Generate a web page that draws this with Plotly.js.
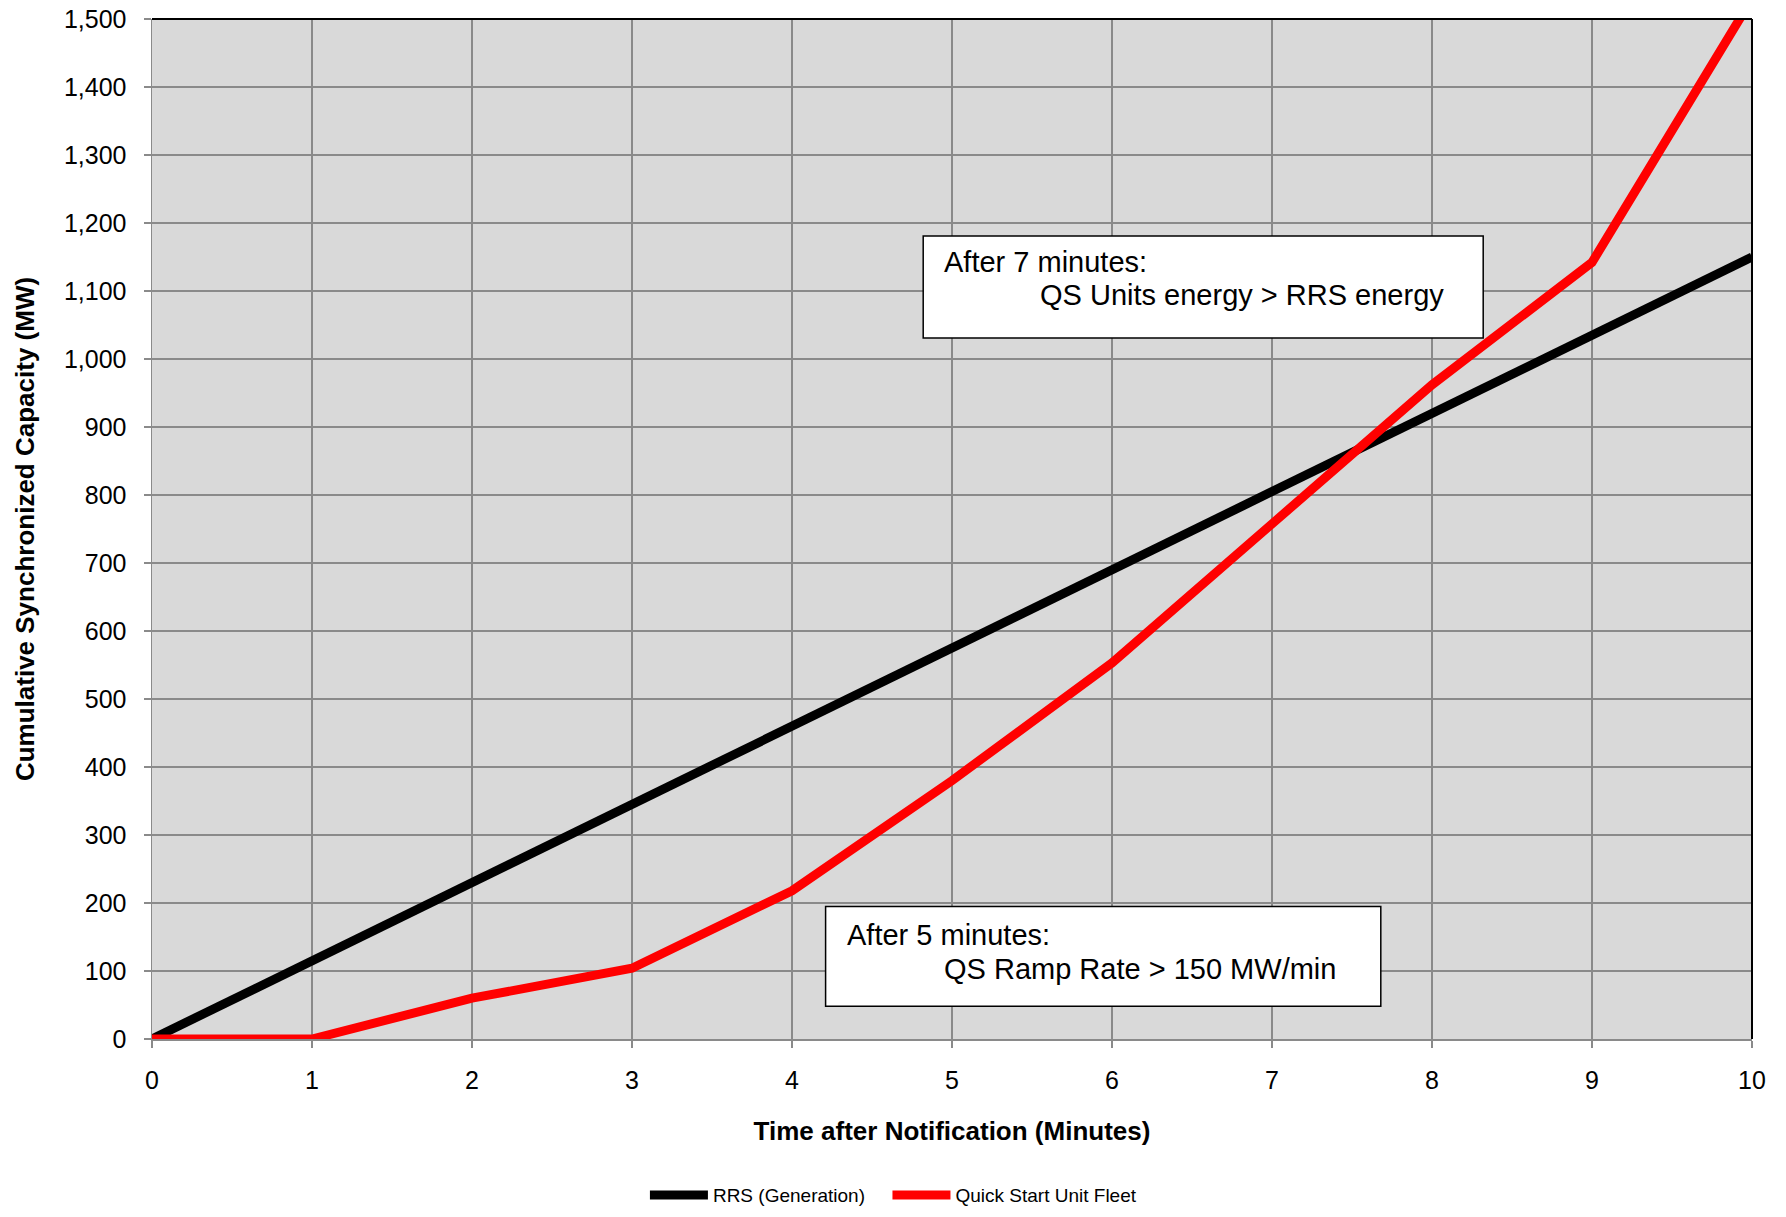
<!DOCTYPE html>
<html>
<head>
<meta charset="utf-8">
<script src="https://cdn.plot.ly/plotly-3.0.1.min.js"></script>
<style>html,body{margin:0;padding:0;background:#fff;}#chart{width:1786px;height:1217px;}</style>
</head>
<body>
<div id="chart"></div>
<script>
const minutes = [0, 1, 2, 3, 4, 5, 6, 7, 8, 9, 10];
const rrsGeneration = [0, 115, 230, 345, 460, 575, 690, 805, 920, 1035, 1150];
const quickStartFleet = [0, 0, 60, 104, 218, 380, 553, 758, 962, 1142, 1530];
const seriesNames = ["RRS (Generation)", "Quick Start Unit Fleet"];
const xTitle = "Time after Notification (Minutes)";
const yTitle = "Cumulative Synchronized Capacity (MW)";
const note1 = ["After 7 minutes:", "QS Units energy > RRS energy"];
const note2 = ["After 5 minutes:", "QS Ramp Rate > 150 MW/min"];

const FONT = "Arial, 'Liberation Sans', sans-serif";

const traces = [
  {x: minutes, y: rrsGeneration, name: seriesNames[0], type: "scatter", mode: "lines",
   line: {color: "#000000", width: 9}, legend: "legend"},
  {x: minutes, y: quickStartFleet, name: seriesNames[1], type: "scatter", mode: "lines",
   line: {color: "#ff0000", width: 9}, legend: "legend2"}
];

const axisCommon = {
  showgrid: true, gridcolor: "#8a8a8a", gridwidth: 1.5,
  showline: true, linecolor: "#8a8a8a", linewidth: 1.5,
  ticks: "outside", ticklen: 7, tickcolor: "#8a8a8a", tickwidth: 1.5,
  zeroline: false, automargin: false, tickfont: {family: FONT, size: 25, color: "#000"}
};

const legendCommon = {
  orientation: "h", xref: "container", yref: "container",
  xanchor: "left", y: 0.018, yanchor: "middle",
  font: {family: FONT, size: 19, color: "#000"}, itemwidth: 58,
  bgcolor: "rgba(0,0,0,0)"
};

const layout = {
  width: 1786, height: 1217,
  margin: {l: 152, r: 34, t: 19, b: 178},
  paper_bgcolor: "#ffffff", plot_bgcolor: "#d9d9d9",
  font: {family: FONT, color: "#000"},
  xaxis: Object.assign({}, axisCommon, {
    range: [0, 10], dtick: 1, tick0: 0, ticklabelstandoff: 11,
    title: {text: xTitle, font: {family: FONT, size: 26, color: "#000", weight: "bold"}, standoff: 29}
  }),
  yaxis: Object.assign({}, axisCommon, {
    range: [0, 1500], dtick: 100, tick0: 0, tickformat: ",d", ticklabelstandoff: 12,
    title: {text: yTitle, font: {family: FONT, size: 26, color: "#000", weight: "bold"}, standoff: 22}
  }),
  showlegend: true,
  legend: Object.assign({}, legendCommon, {x: 0.3611}),
  legend2: Object.assign({}, legendCommon, {x: 0.4969}),
  shapes: [
    {type: "line", xref: "paper", yref: "paper", x0: 0, x1: 1, y0: 1, y1: 1, line: {color: "#000", width: 2}},
    {type: "line", xref: "paper", yref: "paper", x0: 1, x1: 1, y0: 0, y1: 1, line: {color: "#000", width: 2}},
    {type: "rect", xref: "x", yref: "y", x0: 4.82, x1: 8.32, y0: 1031, y1: 1181,
     fillcolor: "#ffffff", line: {color: "#000", width: 1.5}, layer: "above"},
    {type: "rect", xref: "x", yref: "y", x0: 4.21, x1: 7.68, y0: 48, y1: 195,
     fillcolor: "#ffffff", line: {color: "#000", width: 1.5}, layer: "above"}
  ],
  annotations: [
    {xref: "x", yref: "y", x: 4.94, y: 1143, text: note1[0], showarrow: false, xanchor: "left", yanchor: "middle",
     font: {family: FONT, size: 29, color: "#000"}},
    {xref: "x", yref: "y", x: 5.54, y: 1094, text: note1[1], showarrow: false, xanchor: "left", yanchor: "middle",
     font: {family: FONT, size: 29, color: "#000"}},
    {xref: "x", yref: "y", x: 4.33, y: 153, text: note2[0], showarrow: false, xanchor: "left", yanchor: "middle",
     font: {family: FONT, size: 29, color: "#000"}},
    {xref: "x", yref: "y", x: 4.94, y: 103, text: note2[1], showarrow: false, xanchor: "left", yanchor: "middle",
     font: {family: FONT, size: 29, color: "#000"}}
  ]
};

Plotly.newPlot("chart", traces, layout, {displayModeBar: false, staticPlot: true});
</script>
</body>
</html>
